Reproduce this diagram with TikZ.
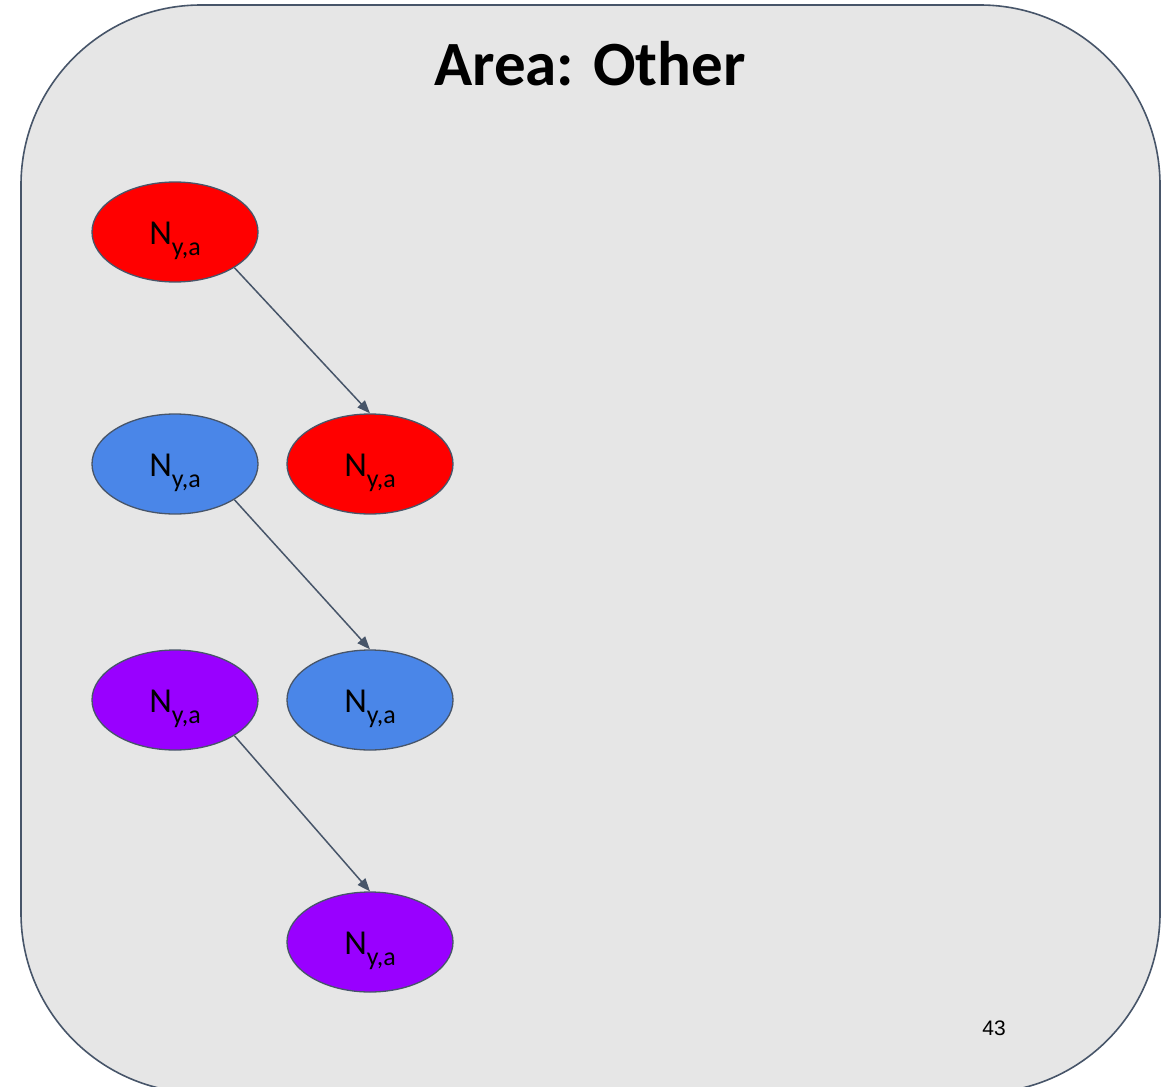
\documentclass[tikz,border=0pt]{standalone}
\usepackage{fontspec}
\setmainfont{Carlito}
\newfontfamily\arialfont{Liberation Sans}
\usetikzlibrary{shapes.geometric,arrows.meta}
\definecolor{edgecol}{HTML}{475569}
\definecolor{panelbg}{HTML}{E6E6E6}
\definecolor{nred}{HTML}{FF0000}
\definecolor{nblue}{HTML}{4A86E8}
\definecolor{npurple}{HTML}{9900FF}
\newcommand{\nya}{N{\fontsize{26}{26}\selectfont\raisebox{-11pt}{y,a}}}
\tikzset{
  nodeell/.style={ellipse, draw=edgecol, line width=1.3pt, minimum width=166pt, minimum height=100pt, inner sep=0pt,
    font=\fontsize{35}{35}\selectfont, text height=24pt, text depth=0pt},
  conn/.style={draw=edgecol, line width=1.5pt, -{Triangle[length=13pt,width=10pt]}}
}
\begin{document}
\begin{tikzpicture}[x=1pt,y=-1pt]
\useasboundingbox (0,0) rectangle (1165,1087);
\begin{scope}
\clip (0,0) rectangle (1165,1087);
\draw[edgecol, fill=panelbg, line width=1.6pt, rounded corners=180pt] (21,5) rectangle (1160,1093);
\end{scope}
\node[font=\fontsize{63}{63}\selectfont\bfseries, anchor=base] (title) at (590,85) {Area: Other};
\node[font=\arialfont\fontsize{21}{21}\selectfont] (pg) at (994,1028) {43};

\node[nodeell, fill=nred] (r1) at (175,232) {\nya};
\node[nodeell, fill=nred] (r2) at (370,464) {\nya};
\node[nodeell, fill=nblue] (b1) at (175,464) {\nya};
\node[nodeell, fill=nblue] (b2) at (370,700) {\nya};
\node[nodeell, fill=npurple] (p1) at (175,700) {\nya};
\node[nodeell, fill=npurple] (p2) at (370,942) {\nya};

\draw[conn] (r1.-31) -- (r2.north);
\draw[conn] (b1.-31) -- (b2.north);
\draw[conn] (p1.-31) -- (p2.north);
\end{tikzpicture}
\end{document}
